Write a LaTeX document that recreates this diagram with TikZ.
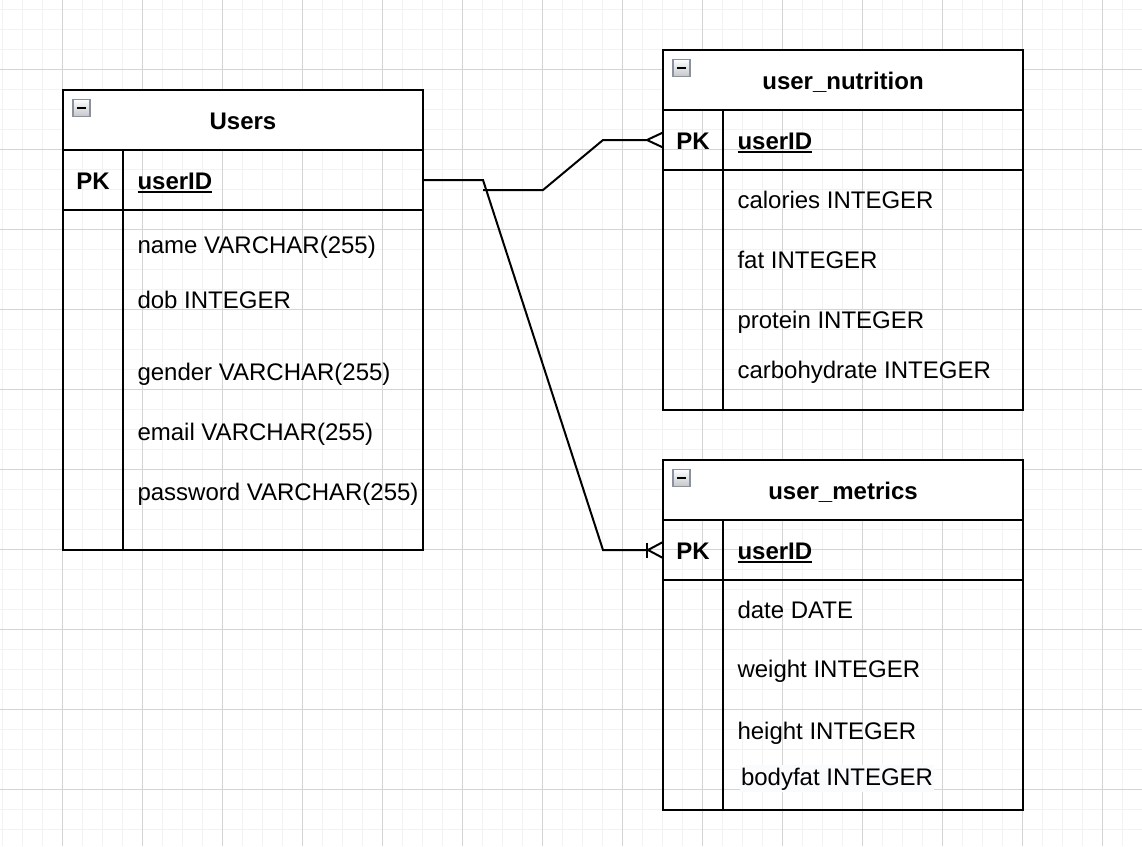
\documentclass[tikz,border=0pt]{standalone}
\usepackage{fontspec}
\setmainfont{Liberation Sans}
\definecolor{minorgrid}{RGB}{242,242,242}
\definecolor{majorgrid}{RGB}{212,212,212}
\definecolor{iconbd}{RGB}{138,146,160}
\definecolor{iconlo}{RGB}{196,198,202}
\definecolor{labelbg}{RGB}{250,251,252}
\newcommand{\ertable}[4]{%
  \node[hdrbox] (#1H) at (#2,#3) {};
  \node[pkbox] (#1PK) at (#2,{#3+60}) {};
  \node[tblframe, minimum height=#4] (#1) at (#2,#3) {};
  \draw[tblline] (#1PK.north west) -- (#1PK.north east);
  \draw[tblline] (#1PK.south west) -- (#1PK.south east);
  \draw[tblline] ([xshift=60pt]#1PK.north west) -- ([xshift=60pt]#1.south west);
  \shade[top color=white, bottom color=iconlo, draw=iconbd, line width=1.2pt]
    ({#2+10},{#3+9.5}) rectangle ({#2+27},{#3+26.5});
  \draw[line width=2.6pt] ({#2+13.8},{#3+18}) -- ({#2+23.2},{#3+18});
}
\begin{document}
\begin{tikzpicture}[x=1pt,y=-1pt,
  tblframe/.style={draw=black, line width=2pt, inner sep=0pt, outer sep=0pt,
    anchor=north west, minimum width=360pt},
  hdrbox/.style={fill=white, inner sep=0pt, outer sep=0pt, anchor=north west,
    minimum width=360pt, minimum height=60pt},
  pkbox/.style={inner sep=0pt, outer sep=0pt, anchor=north west,
    minimum width=360pt, minimum height=60pt},
  tblline/.style={draw=black, line width=2pt},
  txt/.style={inner sep=0pt, outer sep=0pt, anchor=base west,
    font=\fontsize{24}{28}\selectfont},
  btxt/.style={inner sep=0pt, outer sep=0pt, anchor=base,
    font=\fontsize{24}{28}\selectfont\bfseries},
  keytxt/.style={inner sep=0pt, outer sep=0pt, anchor=base west,
    font=\fontsize{24}{28}\selectfont\bfseries},
  conn/.style={draw=black, line width=2pt},
  uline/.style={draw=black, line width=1.8pt}
]
\useasboundingbox (0,0) rectangle (1142,846);
\fill[white] (0,0) rectangle (1142,846);
% grid
\foreach \i in {0,...,56} {\draw[minorgrid, line width=1pt] ({2.7+20*\i},0) -- ++(0,846);}
\foreach \j in {0,...,41} {\draw[minorgrid, line width=1pt] (0,{9.3+20*\j}) -- ++(1142,0);}
\foreach \i in {0,...,13} {\draw[majorgrid, line width=1pt] ({62.7+80*\i},0) -- ++(0,846);}
\foreach \j in {0,...,9} {\draw[majorgrid, line width=1pt] (0,{69.3+80*\j}) -- ++(1142,0);}

% tables
\ertable{users}{63}{90}{460pt}
\ertable{nutr}{663}{50}{360pt}
\ertable{metr}{663}{460}{350pt}

% Users texts
\node[btxt] (usersT) at (243,129) {Users};
\node[btxt] (usersK) at (93,189) {PK};
\node[keytxt] (usersID) at (137.5,189) {userID};
\draw[uline] ([yshift=-3pt]usersID.base west) -- ([yshift=-3pt]usersID.base east);
\node[txt] (u1) at (137.5,253) {name VARCHAR(255)};
\node[txt] (u2) at (137.5,308) {dob INTEGER};
\node[txt] (u3) at (137.5,380.7) {gender VARCHAR(255)};
\node[txt] (u4) at (137.5,440.7) {email VARCHAR(255)};
\node[txt] (u5) at (137.5,500.7) {password VARCHAR(255)};

% user_nutrition texts
\node[btxt] (nutrT) at (843,89) {user\_nutrition};
\node[btxt] (nutrK) at (693,149) {PK};
\node[keytxt] (nutrID) at (737.5,149) {userID};
\draw[uline] ([yshift=-3pt]nutrID.base west) -- ([yshift=-3pt]nutrID.base east);
\node[txt] (n1) at (737.5,208.3) {calories INTEGER};
\node[txt] (n2) at (737.5,268.3) {fat INTEGER};
\node[txt] (n3) at (737.5,328.3) {protein INTEGER};
\node[txt] (n4) at (737.5,378.3) {carbohydrate INTEGER};

% user_metrics texts
\node[btxt] (metrT) at (843,499) {user\_metrics};
\node[btxt] (metrK) at (693,559) {PK};
\node[keytxt] (metrID) at (737.5,559) {userID};
\draw[uline] ([yshift=-3pt]metrID.base west) -- ([yshift=-3pt]metrID.base east);
\node[txt] (m1) at (737.5,618) {date DATE};
\node[txt] (m2) at (737.5,677.7) {weight INTEGER};
\node[txt] (m3) at (737.5,739) {height INTEGER};
\node[txt, fill=labelbg, inner ysep=2.5pt, inner xsep=1pt] (m4) at (740,785) {bodyfat INTEGER};

% connectors
\coordinate (j1) at (483,180);
\coordinate (j2) at (603,550);
\coordinate (mApex) at (648,550);
\draw[conn] (usersPK.east) -- (j1) -- (j2) -- (mApex);
\draw[conn] ([yshift=8pt]metrPK.west) -- (mApex) -- ([yshift=-8pt]metrPK.west);
\draw[conn] (647,542.5) -- (647,557.5);

\coordinate (s1) at (483,190);
\coordinate (s2) at (543,190);
\coordinate (s3) at (603,140);
\coordinate (nApex) at (647,140);
\draw[conn] (s1) -- (s2) -- (s3) -- (nApex);
\draw[conn] ([yshift=7.5pt]nutrPK.west) -- (nApex) -- ([yshift=-7.5pt]nutrPK.west);
\end{tikzpicture}
\end{document}
